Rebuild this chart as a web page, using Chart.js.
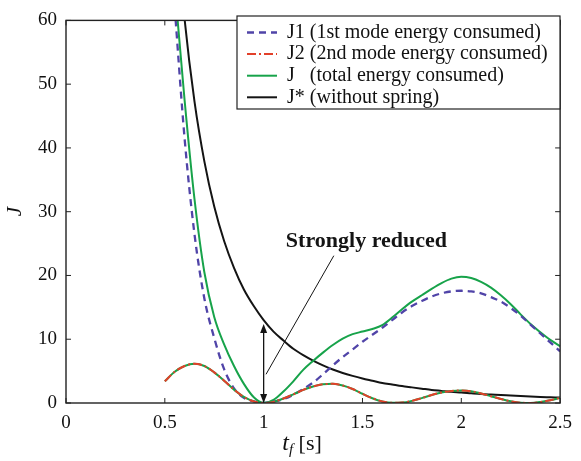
<!DOCTYPE html>
<html>
<head>
<meta charset="utf-8">
<title>J vs tf</title>
<script src="https://cdn.jsdelivr.net/npm/chart.js@4/dist/chart.umd.min.js"></script>
<style>
  html, body { margin: 0; padding: 0; background: #fff; }
  #wrap { width: 581px; height: 461px; }
</style>
</head>
<body>
<div id="wrap"><canvas id="chart" width="581" height="461"></canvas></div>
<script>
// final time t_f [s]
const tValues = [0.50, 0.55, 0.60, 0.65, 0.70, 0.75, 0.80, 0.85, 0.90, 0.95, 1.00,
  1.05, 1.10, 1.15, 1.20, 1.25, 1.30, 1.35, 1.40, 1.45, 1.50,
  1.55, 1.60, 1.65, 1.70, 1.75, 1.80, 1.85, 1.90, 1.95, 2.00,
  2.05, 2.10, 2.15, 2.20, 2.25, 2.30, 2.35, 2.40, 2.45, 2.50];

// J1: 1st mode energy consumed
const j1Values = [null, 62, 41.5, 26.5, 16.4, 10.2, 5.3, 2.3, 0.8, 0.25, 0,
  0.2, 0.6, 1.3, 2.2, 3.2, 4.5, 5.9, 7.2, 8.4, 9.6,
  10.7, 11.8, 13.0, 14.2, 15.2, 16.0, 16.7, 17.2, 17.5, 17.6,
  17.5, 17.2, 16.6, 15.9, 14.9, 13.7, 12.3, 10.9, 9.5, 8.1];

// J2: 2nd mode energy consumed
const j2Values = [3.4, 4.9, 5.8, 6.15, 5.8, 4.8, 3.5, 2.1, 0.95, 0.25, 0,
  0.18, 0.7, 1.35, 2.05, 2.6, 2.95, 3.0, 2.75, 2.2, 1.45,
  0.75, 0.25, 0.02, 0.06, 0.33, 0.77, 1.25, 1.65, 1.9, 1.95,
  1.85, 1.5, 1.07, 0.63, 0.26, 0.04, 0.01, 0.16, 0.44, 0.8];

// J: total energy consumed
const jValues = [null, 65.4, 47.5, 32, 20.5, 13.5, 9.2, 5.8, 3.0, 0.9, 0,
  0.5, 1.8, 3.4, 5.2, 6.6, 7.9, 9.1, 10.1, 10.8, 11.2,
  11.6, 12.2, 13.4, 14.7, 15.9, 16.9, 17.9, 18.8, 19.5, 19.8,
  19.6, 19.0, 18.1, 16.9, 15.5, 13.9, 12.4, 11.1, 9.9, 8.9];

// J*: without spring
const jStarValues = [null, 78, 60.2, 47.3, 37.9, 30.8, 25.4, 21.2, 17.8, 15.2, 13.0,
  11.2, 9.8, 8.5, 7.5, 6.65, 5.9, 5.25, 4.7, 4.25, 3.85,
  3.5, 3.15, 2.9, 2.65, 2.45, 2.25, 2.05, 1.9, 1.75, 1.65,
  1.52, 1.4, 1.32, 1.25, 1.16, 1.08, 1.01, 0.95, 0.9, 0.85];

const xTickValues = [0, 0.5, 1, 1.5, 2, 2.5];
const yTickValues = [0, 10, 20, 30, 40, 50, 60];

const seriesNames = ['J1', 'J2', 'J', 'J*'];
const seriesNotes = ['(1st mode energy consumed)', '(2nd mode energy consumed)',
  '(total energy consumed)', '(without spring)'];

// annotation, in data units
const arrowAt = { t: 1.0, from: 0, to: 12.4 };
const leader = { t1: 1.355, y1: 23.1, t2: 1.012, y2: 4.5 };
const note = { text: 'Strongly reduced', t: 1.52, y: 25.4 };

const SERIF = '"Liberation Serif", "Times New Roman", serif';
const BLUE = '#5044a8';
const RED = '#e2402a';
const GREEN = '#17a34a';
const BLACK = '#141414';

const styles = [
  { color: BLUE, width: 2.3, dash: [7, 5] },
  { color: RED, width: 2, dash: [9, 3, 2, 3] },
  { color: GREEN, width: 2, dash: [] },
  { color: BLACK, width: 2, dash: [] }
];

const toPoints = ys => tValues.map((t, i) => ({ x: t, y: ys[i] }));

function makeSet(label, ys, st, order) {
  return {
    label: label,
    data: toPoints(ys),
    borderColor: st.color,
    borderWidth: st.width,
    borderDash: st.dash,
    pointRadius: 0,
    fill: false,
    cubicInterpolationMode: 'monotone',
    order: order
  };
}

// frame round the plot area, with ticks pointing inwards on every side
const framePlugin = {
  id: 'frame',
  afterDatasetsDraw(chart) {
    const { ctx, chartArea: a, scales } = chart;
    ctx.save();
    ctx.strokeStyle = '#222';
    ctx.lineWidth = 1.4;
    ctx.strokeRect(a.left, a.top, a.right - a.left, a.bottom - a.top);
    ctx.lineWidth = 1;
    const len = 5;
    xTickValues.forEach(v => {
      const x = scales.x.getPixelForValue(v);
      ctx.beginPath();
      ctx.moveTo(x, a.bottom); ctx.lineTo(x, a.bottom - len);
      ctx.moveTo(x, a.top); ctx.lineTo(x, a.top + len);
      ctx.stroke();
    });
    yTickValues.forEach(v => {
      const y = scales.y.getPixelForValue(v);
      ctx.beginPath();
      ctx.moveTo(a.left, y); ctx.lineTo(a.left + len, y);
      ctx.moveTo(a.right, y); ctx.lineTo(a.right - len, y);
      ctx.stroke();
    });
    ctx.restore();
  }
};

function arrowHead(ctx, x, y, dir) {
  ctx.beginPath();
  ctx.moveTo(x, y);
  ctx.lineTo(x - 3.5, y + dir * 9);
  ctx.lineTo(x + 3.5, y + dir * 9);
  ctx.closePath();
  ctx.fill();
}

const notePlugin = {
  id: 'note',
  afterDatasetsDraw(chart) {
    const { ctx, scales } = chart;
    const sx = scales.x, sy = scales.y;
    ctx.save();
    ctx.strokeStyle = BLACK;
    ctx.fillStyle = BLACK;
    // double arrow
    const ax = sx.getPixelForValue(arrowAt.t);
    const y0 = sy.getPixelForValue(arrowAt.from);
    const y1 = sy.getPixelForValue(arrowAt.to);
    ctx.lineWidth = 1.3;
    ctx.beginPath();
    ctx.moveTo(ax, y0 - 6); ctx.lineTo(ax, y1 + 6);
    ctx.stroke();
    arrowHead(ctx, ax, y1, 1);
    arrowHead(ctx, ax, y0, -1);
    // leader line
    ctx.lineWidth = 1;
    ctx.beginPath();
    ctx.moveTo(sx.getPixelForValue(leader.t1), sy.getPixelForValue(leader.y1));
    ctx.lineTo(sx.getPixelForValue(leader.t2), sy.getPixelForValue(leader.y2));
    ctx.stroke();
    // label
    ctx.font = 'bold 22px ' + SERIF;
    ctx.textAlign = 'center';
    ctx.textBaseline = 'middle';
    ctx.fillText(note.text, sx.getPixelForValue(note.t), sy.getPixelForValue(note.y));
    ctx.restore();
  }
};

const legendPlugin = {
  id: 'legendBox',
  afterDraw(chart) {
    const ctx = chart.ctx;
    const box = { x: 237, y: 16, w: 323, h: 93 };
    ctx.save();
    ctx.fillStyle = '#fff';
    ctx.fillRect(box.x, box.y, box.w, box.h);
    ctx.strokeStyle = '#222';
    ctx.lineWidth = 1.2;
    ctx.strokeRect(box.x, box.y, box.w, box.h);
    ctx.font = '20px ' + SERIF;
    ctx.textBaseline = 'middle';
    const textX = box.x + 50;
    const parenX = textX + ctx.measureText('J1 ').width;
    seriesNames.forEach((name, i) => {
      const y = box.y + 16.5 + i * 21.6;
      const st = styles[i];
      ctx.strokeStyle = st.color;
      ctx.lineWidth = st.width;
      ctx.setLineDash(st.dash);
      ctx.beginPath();
      ctx.moveTo(box.x + 10, y); ctx.lineTo(box.x + 40, y);
      ctx.stroke();
      ctx.setLineDash([]);
      ctx.fillStyle = '#111';
      ctx.fillText(name, textX, y);
      ctx.fillText(seriesNotes[i], parenX, y);
    });
    ctx.restore();
  }
};

// x axis title with subscript: t_f [s]
const xTitlePlugin = {
  id: 'xTitle',
  afterDraw(chart) {
    const ctx = chart.ctx;
    const parts = [
      { s: 't', font: 'italic 24px ' + SERIF, dy: 0 },
      { s: 'f', font: 'italic 15px ' + SERIF, dy: 4 },
      { s: ' [s]', font: '22px ' + SERIF, dy: 0 }
    ];
    ctx.save();
    ctx.fillStyle = '#111';
    ctx.textBaseline = 'alphabetic';
    let total = 0;
    parts.forEach(p => { ctx.font = p.font; p.w = ctx.measureText(p.s).width; total += p.w; });
    let x = 302 - total / 2;
    const base = 450;
    parts.forEach(p => {
      ctx.font = p.font;
      ctx.fillText(p.s, x, base + p.dy);
      x += p.w;
    });
    ctx.restore();
  }
};

new Chart(document.getElementById('chart'), {
  type: 'line',
  data: {
    datasets: [
      makeSet(seriesNames[0], j1Values, styles[0], 2),
      makeSet(seriesNames[1], j2Values, styles[1], 0),
      makeSet('J2 underlay', j2Values, { color: GREEN, width: 2, dash: [] }, 1),
      makeSet(seriesNames[2], jValues, styles[2], 3),
      makeSet(seriesNames[3], jStarValues, styles[3], 4)
    ]
  },
  options: {
    responsive: false,
    animation: false,
    devicePixelRatio: 1,
    layout: { padding: { left: 0, right: 15, top: 11, bottom: 0 } },
    plugins: {
      legend: { display: false },
      tooltip: { enabled: false }
    },
    scales: {
      x: {
        type: 'linear',
        min: 0,
        max: 2.5,
        afterBuildTicks: s => { s.ticks = xTickValues.map(v => ({ value: v })); },
        afterFit: s => { s.height = 58; },
        grid: { display: false, drawTicks: false },
        border: { display: false },
        ticks: {
          color: '#111',
          padding: 9,
          font: { family: SERIF, size: 19 },
          callback: v => String(v)
        }
      },
      y: {
        min: 0,
        max: 60,
        afterBuildTicks: s => { s.ticks = yTickValues.map(v => ({ value: v })); },
        afterFit: s => { s.width = 66; },
        grid: { display: false, drawTicks: false },
        border: { display: false },
        ticks: { color: '#111', padding: 9, font: { family: SERIF, size: 19 } },
        title: {
          display: true,
          text: 'J',
          color: '#111',
          padding: { top: 3, bottom: 0 },
          font: { family: SERIF, size: 21, style: 'italic' }
        }
      }
    }
  },
  plugins: [framePlugin, notePlugin, legendPlugin, xTitlePlugin]
});
</script>
</body>
</html>
